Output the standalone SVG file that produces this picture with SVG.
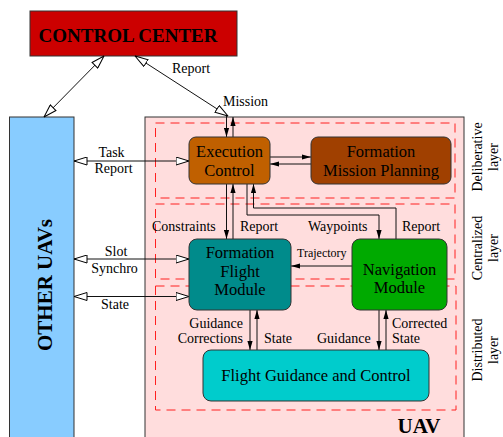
<svg xmlns="http://www.w3.org/2000/svg" width="503" height="437" viewBox="0 0 503 437">
<defs>
<style>
text{font-family:"Liberation Serif","Times New Roman",serif;fill:#000}
.t14{font-size:14px}
.t12{font-size:12px}
.box{font-size:16.5px;text-anchor:middle}
.bold{font-weight:bold}
.mid{text-anchor:middle}
.end{text-anchor:end}
.node{stroke:#333;stroke-width:1}
.dash{fill:none;stroke:#ff2020;stroke-width:1;stroke-dasharray:9,6}
.ln{fill:none;stroke:#111;stroke-width:1}
.fa{marker-end:url(#fa)}
.ob{marker-start:url(#oa);marker-end:url(#oa)}
</style>
<marker id="fa" markerUnits="userSpaceOnUse" viewBox="0 0 9 6" markerWidth="9" markerHeight="6" refX="9" refY="3" orient="auto"><path d="M0,0.4 L9,3 L0,5.6 z" fill="#000"/></marker>
<marker id="oa" markerUnits="userSpaceOnUse" viewBox="0 0 14 9" markerWidth="14" markerHeight="9" refX="13.5" refY="4.5" orient="auto-start-reverse"><path d="M0.5,0.5 L13.5,4.5 L0.5,8.5 z" fill="#fff" stroke="#000" stroke-width="1"/></marker>
</defs>

<g id="control-center">
<rect class="node" x="30" y="11" width="207" height="45" fill="#cc0000"/>
<text class="bold" x="128" y="42" font-size="19" text-anchor="middle">CONTROL CENTER</text>
</g>

<g id="other-uavs">
<rect class="node" x="9.5" y="117" width="64.5" height="330" fill="#88ccff"/>
<text class="bold" transform="translate(52,285) rotate(-90)" font-size="21" text-anchor="middle">OTHER UAVs</text>
</g>

<g id="uav">
<rect class="node" x="145" y="117" width="319" height="330" fill="#ffdddd"/>
<text class="bold" x="419" y="433" font-size="21" text-anchor="middle">UAV</text>
</g>

<g id="layers">
<rect class="dash" x="155.5" y="123" width="299.5" height="75"/>
<rect class="dash" x="155.5" y="204" width="299.5" height="75"/>
<rect class="dash" x="155.5" y="286" width="300.5" height="124"/>
<text class="t14 mid" transform="translate(482,157) rotate(-90)">Deliberative</text>
<text class="t14 mid" transform="translate(498,157) rotate(-90)">layer</text>
<text class="t14 mid" transform="translate(482,248) rotate(-90)">Centralized</text>
<text class="t14 mid" transform="translate(498,248) rotate(-90)">layer</text>
<text class="t14 mid" transform="translate(482,350) rotate(-90)">Distributed</text>
<text class="t14 mid" transform="translate(498,350) rotate(-90)">layer</text>
</g>

<g id="connectors">
<line class="ln ob" x1="104" y1="56" x2="44" y2="117"/>
<line class="ln ob" x1="135" y1="56" x2="228" y2="116"/>
<line class="ln fa" x1="226.5" y1="116" x2="226.5" y2="137"/>
<line class="ln fa" x1="233" y1="137" x2="233" y2="117"/>
<line class="ln ob" x1="74" y1="161" x2="189" y2="161"/>
<line class="ln ob" x1="74" y1="259" x2="189" y2="259"/>
<line class="ln ob" x1="74" y1="296.5" x2="189" y2="296.5"/>
<line class="ln fa" x1="270" y1="157" x2="311" y2="157"/>
<line class="ln fa" x1="311" y1="164" x2="270" y2="164"/>
<line class="ln fa" x1="226.5" y1="184" x2="226.5" y2="239"/>
<line class="ln fa" x1="233" y1="239" x2="233" y2="184"/>
<path class="ln fa" d="M247,184 V215 H379 V239"/>
<path class="ln fa" d="M396,239 V208 H253.5 V184"/>
<line class="ln fa" x1="352" y1="266" x2="291" y2="266"/>
<line class="ln fa" x1="250" y1="310" x2="250" y2="350"/>
<line class="ln fa" x1="257" y1="350" x2="257" y2="310"/>
<line class="ln fa" x1="379" y1="310" x2="379" y2="350"/>
<line class="ln fa" x1="386" y1="350" x2="386" y2="310"/>
<text class="t14" x="172" y="73">Report</text>
<text class="t14" x="223" y="106">Mission</text>
<text class="t14 mid" x="111.5" y="157">Task</text>
<text class="t14 mid" x="113.5" y="173">Report</text>
<text class="t14 mid" x="116" y="256">Slot</text>
<text class="t14 mid" x="114.5" y="273">Synchro</text>
<text class="t14 mid" x="115" y="309">State</text>
<text class="t14" x="152" y="231">Constraints</text>
<text class="t14" x="240" y="231">Report</text>
<text class="t14" x="308" y="231">Waypoints</text>
<text class="t14" x="402" y="231">Report</text>
<text class="t12" x="297" y="257">Trajectory</text>
<text class="t14 end" x="243" y="328">Guidance</text>
<text class="t14 end" x="243" y="343">Corrections</text>
<text class="t14" x="264" y="343">State</text>
<text class="t14" x="317" y="343">Guidance</text>
<text class="t14" x="392" y="328">Corrected</text>
<text class="t14" x="392" y="343">State</text>
</g>

<g id="execution-control">
<rect class="node" x="189" y="137" width="81" height="47" rx="7" fill="#c06000"/>
<text class="box" x="229.5" y="157">Execution</text>
<text class="box" x="229.5" y="176">Control</text>
</g>

<g id="formation-mission-planning">
<rect class="node" x="311" y="137" width="140" height="47" rx="7" fill="#a04000"/>
<text class="box" x="381" y="157">Formation</text>
<text class="box" x="381" y="176">Mission Planning</text>
</g>

<g id="formation-flight-module">
<rect class="node" x="189" y="239" width="102" height="71" rx="8" fill="#008b8b"/>
<text class="box" x="240" y="258">Formation</text>
<text class="box" x="240" y="277">Flight</text>
<text class="box" x="240" y="295">Module</text>
</g>

<g id="navigation-module">
<rect class="node" x="352" y="239" width="95" height="71" rx="8" fill="#00aa00"/>
<text class="box" x="399.5" y="275">Navigation</text>
<text class="box" x="399.5" y="293">Module</text>
</g>

<g id="flight-guidance-control">
<rect class="node" x="203" y="350" width="226" height="51" rx="8" fill="#00cccc"/>
<text class="box" x="316" y="381">Flight Guidance and Control</text>
</g>
</svg>
